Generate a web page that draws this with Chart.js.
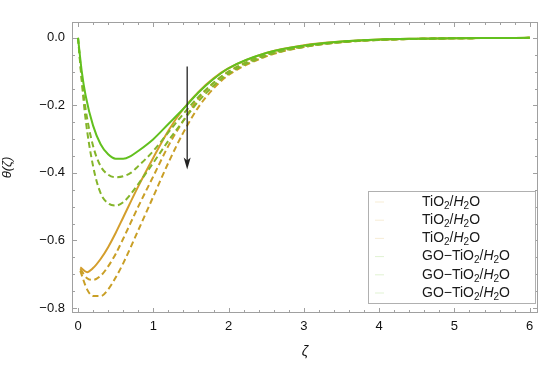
<!DOCTYPE html>
<html>
<head>
<meta charset="utf-8">
<script src="https://cdn.jsdelivr.net/npm/chart.js@4.4.1/dist/chart.umd.min.js"></script>
<style>
  html, body { margin: 0; padding: 0; background: #fff; }
  #wrap { width: 550px; height: 367px; position: relative; }
</style>
</head>
<body>
<div id="wrap"><canvas id="chart"></canvas></div>
<script>
// values
const zetaGO = [0, 0.05, 0.1, 0.2, 0.3, 0.4, 0.5, 0.6, 0.7, 0.8, 1.0, 1.2, 1.4, 1.6, 1.8, 2.0, 2.5, 3, 3.5, 4, 4.5, 5, 5.5, 6];
const goSolid = [0, -0.1, -0.17, -0.26, -0.315, -0.345, -0.358, -0.358, -0.35, -0.335, -0.3, -0.255, -0.21, -0.162, -0.122, -0.09, -0.045, -0.023, -0.011, -0.005, -0.0025, -0.001, -0.0004, 0];
const goDash1 = [0, -0.12, -0.21, -0.32, -0.38, -0.405, -0.413, -0.41, -0.4, -0.38, -0.335, -0.28, -0.225, -0.175, -0.133, -0.1, -0.05, -0.025, -0.012, -0.006, -0.003, -0.0012, -0.0005, 0];
const goDash2 = [0, -0.13, -0.24, -0.38, -0.46, -0.49, -0.497, -0.487, -0.463, -0.433, -0.37, -0.305, -0.245, -0.188, -0.142, -0.106, -0.053, -0.027, -0.013, -0.006, -0.003, -0.0013, -0.0005, 0];

const zetaTi = [0.03, 0.12, 0.2, 0.3, 0.4, 0.5, 0.6, 0.8, 1.0, 1.2, 1.4, 1.6, 1.8, 2.0, 2.5, 3, 3.5, 4, 4.5, 5, 5.5, 6];
const tiSolid = [-0.68, -0.694, -0.682, -0.655, -0.62, -0.578, -0.532, -0.44, -0.355, -0.275, -0.21, -0.16, -0.12, -0.09, -0.045, -0.022, -0.011, -0.005, -0.0025, -0.001, -0.0004, 0];
const tiDash1 = [-0.685, -0.712, -0.717, -0.705, -0.677, -0.64, -0.595, -0.5, -0.41, -0.32, -0.245, -0.18, -0.134, -0.1, -0.05, -0.025, -0.012, -0.006, -0.003, -0.0012, -0.0005, 0];
const tiDash2 = [-0.69, -0.745, -0.765, -0.765, -0.745, -0.71, -0.668, -0.57, -0.47, -0.37, -0.28, -0.205, -0.15, -0.11, -0.055, -0.027, -0.013, -0.006, -0.003, -0.0013, -0.0005, 0];

const xTicks = [0, 1, 2, 3, 4, 5, 6];
const yTicks = [0, -0.2, -0.4, -0.6, -0.8];
const legendNames = ['TiO2/H2O', 'TiO2/H2O', 'TiO2/H2O', 'GO\u2212TiO2/H2O', 'GO\u2212TiO2/H2O', 'GO\u2212TiO2/H2O'];
const arrowX = 1.45;
const arrowFrom = -0.085;
const arrowTo = -0.39;

const orange = '#d49e2c';
const orangeDash = '#c99f26';
const green = '#62c01e';
const greenDash = '#84b52a';
const font = '"Liberation Sans", Arial, sans-serif';

function pts(xs, ys) {
    return xs.map((x, i) => ({ x: x, y: ys[i] }));
}

function line(label, xs, ys, color, dashed) {
    return {
        label: label,
        data: pts(xs, ys),
        borderColor: color,
        borderWidth: 2,
        borderDash: dashed ? [6, 3.5] : [],
        pointRadius: 0,
        fill: false,
        cubicInterpolationMode: 'monotone'
    };
}

// first dataset is drawn on top
const datasets = [
    line(legendNames[3], zetaGO, goSolid, green, false),
    line(legendNames[4], zetaGO, goDash1, greenDash, true),
    line(legendNames[5], zetaGO, goDash2, greenDash, true),
    line(legendNames[0], zetaTi, tiSolid, orange, false),
    line(legendNames[1], zetaTi, tiDash1, orangeDash, true),
    line(legendNames[2], zetaTi, tiDash2, orangeDash, true)
];

// frame with inward ticks, like Mathematica
const framePlugin = {
    id: 'frame',
    afterDatasetsDraw(chart) {
        const { ctx, chartArea: a, scales: { x, y } } = chart;
        ctx.save();
        ctx.strokeStyle = '#a0a0a0';
        ctx.lineWidth = 1;
        ctx.strokeRect(a.left + 0.5, a.top + 0.5, a.right - a.left - 1, a.bottom - a.top - 1);
        ctx.beginPath();
        for (let i = 0; i <= 30; i++) {
            const v = i * 0.2;
            const px = Math.round(x.getPixelForValue(v)) + 0.5;
            const len = (i % 5 === 0) ? 5 : 3;
            ctx.moveTo(px, a.bottom); ctx.lineTo(px, a.bottom - len);
            ctx.moveTo(px, a.top); ctx.lineTo(px, a.top + len);
        }
        for (let i = 0; i <= 16; i++) {
            const v = -i * 0.05;
            const py = Math.round(y.getPixelForValue(v)) + 0.5;
            const len = (i % 4 === 0) ? 5 : 3;
            ctx.moveTo(a.left, py); ctx.lineTo(a.left + len, py);
            ctx.moveTo(a.right, py); ctx.lineTo(a.right - len, py);
        }
        ctx.stroke();
        ctx.restore();
    }
};

const arrowPlugin = {
    id: 'arrow',
    afterDatasetsDraw(chart) {
        const { ctx, scales: { x, y } } = chart;
        const px = x.getPixelForValue(arrowX);
        const y0 = y.getPixelForValue(arrowFrom);
        const y1 = y.getPixelForValue(arrowTo);
        ctx.save();
        ctx.strokeStyle = '#222';
        ctx.fillStyle = '#222';
        ctx.lineWidth = 1.3;
        ctx.beginPath();
        ctx.moveTo(px, y0);
        ctx.lineTo(px, y1 - 8);
        ctx.stroke();
        ctx.beginPath();
        ctx.moveTo(px, y1);
        ctx.lineTo(px - 3.5, y1 - 12);
        ctx.lineTo(px, y1 - 9);
        ctx.lineTo(px + 3.5, y1 - 12);
        ctx.closePath();
        ctx.fill();
        ctx.restore();
    }
};

function richText(ctx, name, x, y) {
    // "TiO2/H2O" -> subscripts and italic H
    const base = '14px ' + font;
    const ital = 'italic 14px ' + font;
    const sub = '10px ' + font;
    const pre = name.split('2/H2O')[0];
    const parts = [[pre, base, 0], ['2', sub, 4], ['/', base, 0], ['H', ital, 0], ['2', sub, 4], ['O', base, 0]];
    let cx = x;
    parts.forEach(([t, f, dy]) => {
        ctx.font = f;
        ctx.fillText(t, cx, y + dy);
        cx += ctx.measureText(t).width;
    });
}

const legendPlugin = {
    id: 'mlegend',
    afterDraw(chart) {
        const { ctx } = chart;
        const left = 368, top = 191, w = 167, h = 112;
        ctx.save();
        ctx.fillStyle = '#fff';
        ctx.fillRect(left, top, w, h);
        ctx.strokeStyle = '#b0b0b0';
        ctx.lineWidth = 1;
        ctx.strokeRect(left + 0.5, top + 0.5, w, h);
        const cols = [orange, orange, orange, green, green, green];
        legendNames.forEach((name, i) => {
            const cy = 202 + i * 18.2;
            ctx.globalAlpha = 0.2;
            ctx.strokeStyle = cols[i];
            ctx.beginPath();
            ctx.moveTo(375, cy);
            ctx.lineTo(384, cy);
            ctx.stroke();
            ctx.globalAlpha = 1;
            ctx.fillStyle = '#1a1a1a';
            ctx.textBaseline = 'middle';
            richText(ctx, name, 422, cy);
        });
        ctx.restore();
    }
};

new Chart(document.getElementById('chart'), {
    type: 'line',
    data: { datasets: datasets },
    options: {
        responsive: true,
        maintainAspectRatio: false,
        animation: false,
        layout: { padding: { top: 22, right: 12, left: 0, bottom: 0 } },
        plugins: { legend: { display: false }, tooltip: { enabled: false } },
        scales: {
            x: {
                type: 'linear',
                min: -0.08,
                max: 6.11,
                grid: { display: false, drawTicks: false, tickLength: 0 },
                border: { display: false },
                afterFit: s => { s.height = 54; },
                afterBuildTicks: s => { s.ticks = xTicks.map(v => ({ value: v })); },
                ticks: {
                    padding: 6,
                    color: '#111',
                    font: { family: font, size: 13 },
                    callback: v => String(v)
                },
                title: {
                    display: true,
                    text: '\u03b6',
                    color: '#111',
                    padding: { top: 0, bottom: 6 },
                    font: { family: font, size: 14, style: 'italic' }
                }
            },
            y: {
                type: 'linear',
                min: -0.815,
                max: 0.047,
                grid: { display: false, drawTicks: false, tickLength: 0 },
                border: { display: false },
                afterFit: s => { s.width = 72; },
                afterBuildTicks: s => { s.ticks = yTicks.map(v => ({ value: v })); },
                ticks: {
                    padding: 7,
                    color: '#111',
                    font: { family: font, size: 13 },
                    callback: v => (v < 0 ? '\u2212' : '') + Math.abs(v).toFixed(1)
                },
                title: {
                    display: true,
                    text: '\u03b8(\u03b6)',
                    color: '#111',
                    padding: { top: 0, bottom: 2 },
                    font: { family: font, size: 13, style: 'italic' }
                }
            }
        }
    },
    plugins: [framePlugin, arrowPlugin, legendPlugin]
});
</script>
</body>
</html>
